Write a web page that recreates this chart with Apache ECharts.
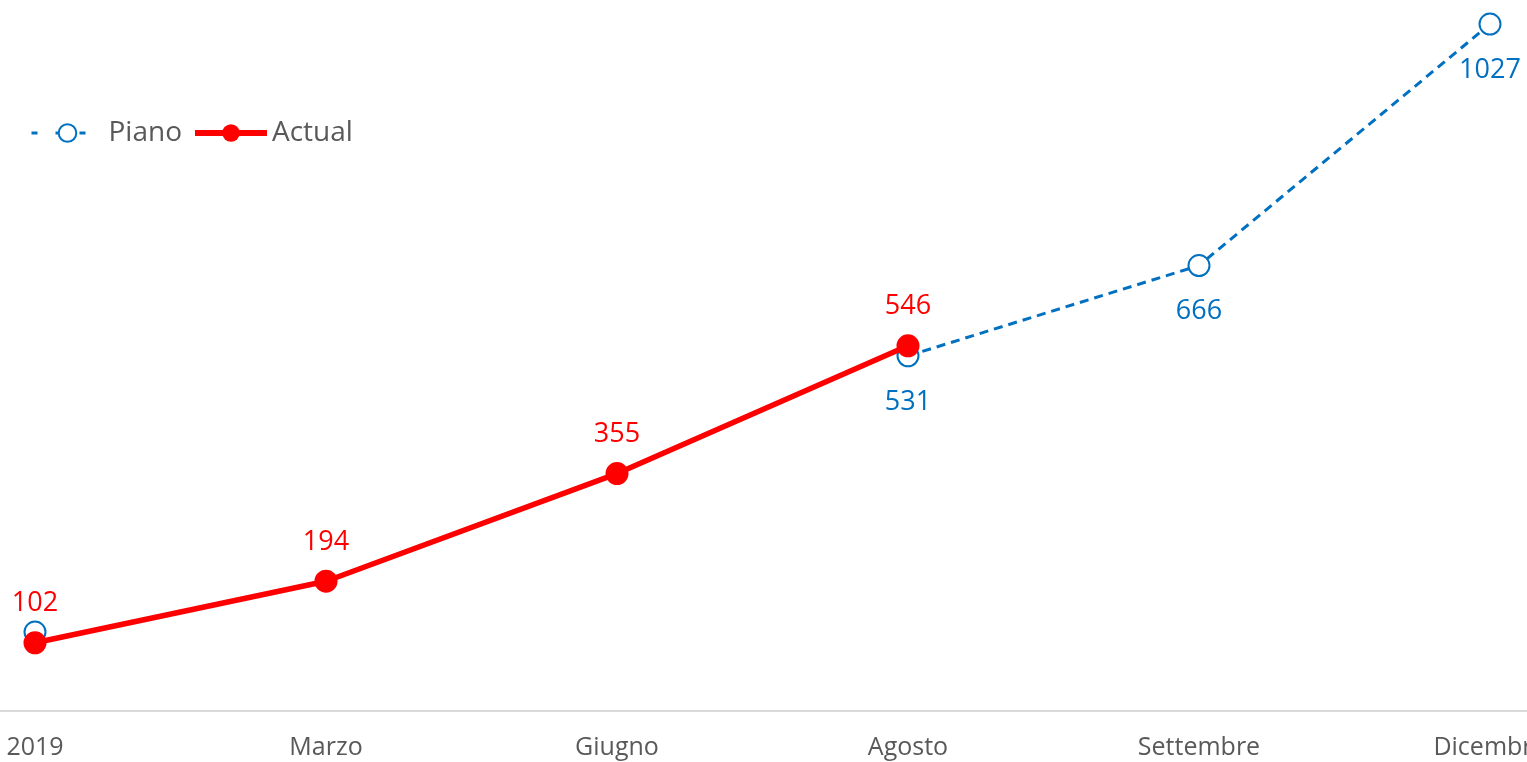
<!DOCTYPE html>
<html>
<head>
<meta charset="utf-8">
<script src="https://cdn.jsdelivr.net/npm/echarts@6/dist/echarts.min.js"></script>
<style>html,body{margin:0;padding:0;background:#fff}#c{width:1527px;height:762px}</style>
</head>
<body>
<div id="c"></div>
<script>
const categories = ['2019', 'Marzo', 'Giugno', 'Agosto', 'Settembre', 'Dicembre'];
const pianoValues = [118, null, null, 531, 666, 1027];
const pianoLabelShown = [false, false, false, true, true, true];
const actualValues = [102, 194, 355, 546, null, null];
const seriesNames = ['Piano', 'Actual'];

const chart = echarts.init(document.getElementById('c'));
const FONT = 'Open Sans';
chart.setOption({
  animation: false,
  textStyle: { fontFamily: FONT },
  grid: [
    { left: 35, right: 37, top: 0, bottom: 51, containLabel: false, outerBoundsMode: 'none' },
    { left: 0, right: 0, top: 0, bottom: 51, containLabel: false, outerBoundsMode: 'none' }
  ],
  legend: {
    left: 25, top: 114,
    itemWidth: 72, itemHeight: 22, itemGap: 10,
    textStyle: { fontSize: 28, color: '#595959', fontFamily: FONT },
    data: [
      { name: seriesNames[0], lineStyle: { width: 3, type: [6, 18] } },
      { name: seriesNames[1], lineStyle: { width: 6 } }
    ]
  },
  xAxis: [
    {
      type: 'category', data: categories, boundaryGap: false, gridIndex: 0,
      axisLine: { show: false },
      axisTick: { show: false },
      axisLabel: { fontSize: 25, color: '#595959', margin: 24, fontFamily: FONT }
    },
    {
      type: 'value', gridIndex: 1, min: 0, max: 1,
      axisLine: { show: true, lineStyle: { color: '#d9d9d9', width: 2 } },
      axisTick: { show: false }, axisLabel: { show: false }, splitLine: { show: false }
    }
  ],
  yAxis: [
    { type: 'value', min: 0, max: 1063, show: false, splitLine: { show: false }, gridIndex: 0 },
    { type: 'value', min: 0, max: 1, show: false, splitLine: { show: false }, gridIndex: 1 }
  ],
  series: [
    {
      name: seriesNames[0], type: 'line', data: pianoValues.map((v, i) => ({
        value: v, label: { show: pianoLabelShown[i] }
      })),
      connectNulls: false,
      symbol: 'emptyCircle', symbolSize: 21,
      lineStyle: { color: '#0070C0', width: 3, type: [9, 6] },
      itemStyle: { color: '#0070C0', borderColor: '#0070C0', borderWidth: 2 },
      label: { position: 'bottom', distance: 21, fontSize: 27, color: '#0070C0', fontFamily: FONT },
      z: 2
    },
    {
      name: seriesNames[1], type: 'line', data: actualValues,
      symbol: 'circle', symbolSize: 23,
      lineStyle: { color: '#FF0000', width: 5.5 },
      itemStyle: { color: '#FF0000' },
      label: { show: true, position: 'top', distance: 14, fontSize: 27, color: '#FF0000', fontFamily: FONT },
      z: 3
    }
  ]
});
</script>
</body>
</html>
